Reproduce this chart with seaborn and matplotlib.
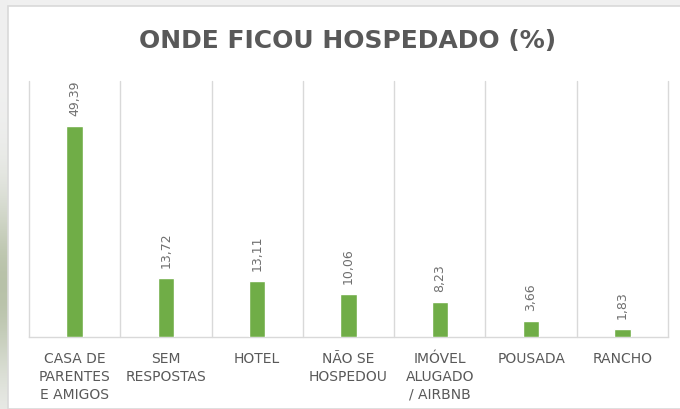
import numpy as np
import pandas as pd
import seaborn as sns
import matplotlib.pyplot as plt
from matplotlib.patches import Rectangle

categorias = ['CASA DE\nPARENTES\nE AMIGOS', 'SEM\nRESPOSTAS', 'HOTEL', 'NÃO SE\nHOSPEDOU',
              'IMÓVEL\nALUGADO\n/ AIRBNB', 'POUSADA', 'RANCHO']
percentuais = [49.39, 13.72, 13.11, 10.06, 8.23, 3.66, 1.83]

df = pd.DataFrame({'local': categorias, 'pct': percentuais})

sns.set_style('white')
plt.rcParams['font.family'] = ['DejaVu Sans']

cinza = '#595959'
verde = '#70ad47'

fig = plt.figure(figsize=(6.8, 4.1), dpi=100)
fig.patch.set_facecolor('#f0f0f0')

# faixa esverdeada do fundo do slide, à esquerda
bg = fig.add_axes([0, 0, 8 / 680, 1], zorder=-10)
grad = np.linspace(0, 1, 200)
intens = np.exp(-((grad - 0.3) / 0.22) ** 2)
img = np.ones((200, 1, 3))
base = np.array([0.94, 0.94, 0.94])
alvo = np.array([0.72, 0.76, 0.66])
for i, t in enumerate(intens):
    img[i, 0] = base + (alvo - base) * t
bg.imshow(img, aspect='auto', extent=[0, 1, 0, 1], origin='lower')
bg.set_axis_off()

# painel branco do gráfico
fig.patches.append(Rectangle((8 / 680, 0), 1, 1 - 7 / 410, transform=fig.transFigure,
                             facecolor='white', edgecolor='#d9d9d9', linewidth=1.2, zorder=-5))

ax = fig.add_axes([29 / 680, 1 - 338 / 410, (668 - 29) / 680, (338 - 82) / 410], zorder=5)
ax.set_facecolor('none')
sns.barplot(data=df, x='local', y='pct', color=verde, saturation=1, width=0.18, ax=ax, zorder=3)

ax.set_xlim(-0.5, len(categorias) - 0.5)
ax.set_ylim(0, 60)
for xv in np.arange(-0.5, len(categorias), 1.0):
    ax.axvline(xv, color='#d9d9d9', linewidth=1, zorder=1, clip_on=False)

for s in ['top', 'right', 'left']:
    ax.spines[s].set_visible(False)
ax.spines['bottom'].set_color('#d9d9d9')
ax.spines['bottom'].set_linewidth(1)

ax.set_yticks([])
ax.set_xlabel('')
ax.set_ylabel('')
ax.tick_params(axis='x', length=0, pad=10, labelsize=10, labelcolor=cinza)
for lbl in ax.get_xticklabels():
    lbl.set_linespacing(1.35)

for i, v in enumerate(percentuais):
    ax.annotate(f'{v:.2f}'.replace('.', ','), (i, v), xytext=(0, 8), textcoords='offset points',
                rotation=90, ha='center', va='bottom', fontsize=9, color='#6f6f6f')

fig.text(348 / 680, 1 - 41 / 410, 'ONDE FICOU HOSPEDADO (%)', ha='center', va='center',
         fontsize=18, fontweight='bold', color=cinza)

fig.savefig('out.png', dpi=100, facecolor=fig.get_facecolor())
